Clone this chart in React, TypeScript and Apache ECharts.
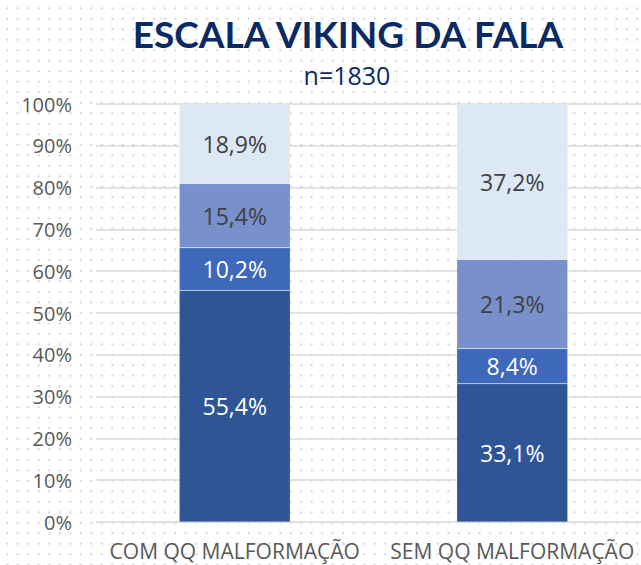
import React, { useEffect, useRef } from "react";
import * as echarts from "echarts";

const categories = ["COM QQ MALFORMAÇÃO", "SEM QQ MALFORMAÇÃO"];
const level1 = [55.4, 33.1];
const level2 = [10.2, 8.4];
const level3 = [15.4, 21.3];
const level4 = [18.9, 37.2];
const titleText = "ESCALA VIKING DA FALA";
const subtitleText = "n=1830";

const colors = ["#2f5597", "#3e68b9", "#7890cc", "#dde8f5"];
const labelColors = ["#ffffff", "#ffffff", "#404040", "#404040"];

export default function App() {
  const ref = useRef<HTMLDivElement>(null);
  useEffect(() => {
    if (!ref.current) return;
    const chart = echarts.init(ref.current, null, { renderer: "svg" });
    const fmt = (p: any) => p.value.toFixed(1).replace(".", ",") + "%";
    const seriesData = [level1, level2, level3, level4];
    chart.setOption({
      animation: false,
      backgroundColor: "transparent",
      textStyle: { fontFamily: "Open Sans" },
      graphic: [
        {
          type: "text",
          x: 348,
          y: 33,
          style: {
            text: titleText,
            fontFamily: "Lato",
            fontWeight: "bold",
            fontSize: 37,
            fill: "#0b2a63",
            align: "center",
            verticalAlign: "middle",
          },
        },
        {
          type: "text",
          x: 347,
          y: 75,
          style: {
            text: subtitleText,
            fontFamily: "Open Sans",
            fontSize: 25,
            fill: "#0b2a63",
            align: "center",
            verticalAlign: "middle",
          },
        },
      ],
      grid: { left: 96, right: 9, top: 104, bottom: 43, containLabel: false },
      xAxis: {
        type: "category",
        data: categories,
        axisLine: { show: false },
        axisTick: { show: false },
        axisLabel: { color: "#595959", fontSize: 21, margin: 18, fontFamily: "Open Sans", interval: 0, hideOverlap: false },
      },
      yAxis: {
        type: "value",
        min: 0,
        max: 100,
        interval: 10,
        axisLine: { show: false },
        axisTick: { show: false },
        axisLabel: { color: "#595959", fontSize: 20, margin: 24, formatter: "{value}%", fontFamily: "Open Sans" },
        splitLine: { lineStyle: { color: "#d9d9d9", width: 1.5 } },
      },
      series: seriesData.map((d, i) => ({
        type: "bar",
        stack: "total",
        data: d,
        barWidth: 111,
        itemStyle: { color: colors[i], borderColor: "rgba(255,255,255,0.35)", borderWidth: 0.5 },
        label: {
          show: true,
          position: "inside",
          formatter: fmt,
          color: labelColors[i],
          fontSize: 23,
          fontFamily: "Open Sans",
        },
      })),
    });
    return () => chart.dispose();
  }, []);
  return (
    <div
      style={{
        position: "fixed",
        left: 0,
        top: 0,
        width: 641,
        height: 565,
        backgroundColor: "#ffffff",
        backgroundImage: "radial-gradient(circle, #d4d4d4 0.9px, transparent 1.3px)",
        backgroundSize: "10.5px 10.5px",
        backgroundPosition: "2px 3px",
        overflow: "hidden",
      }}
    >
      <div ref={ref} style={{ width: 660, height: 565 }} />
    </div>
  );
}
